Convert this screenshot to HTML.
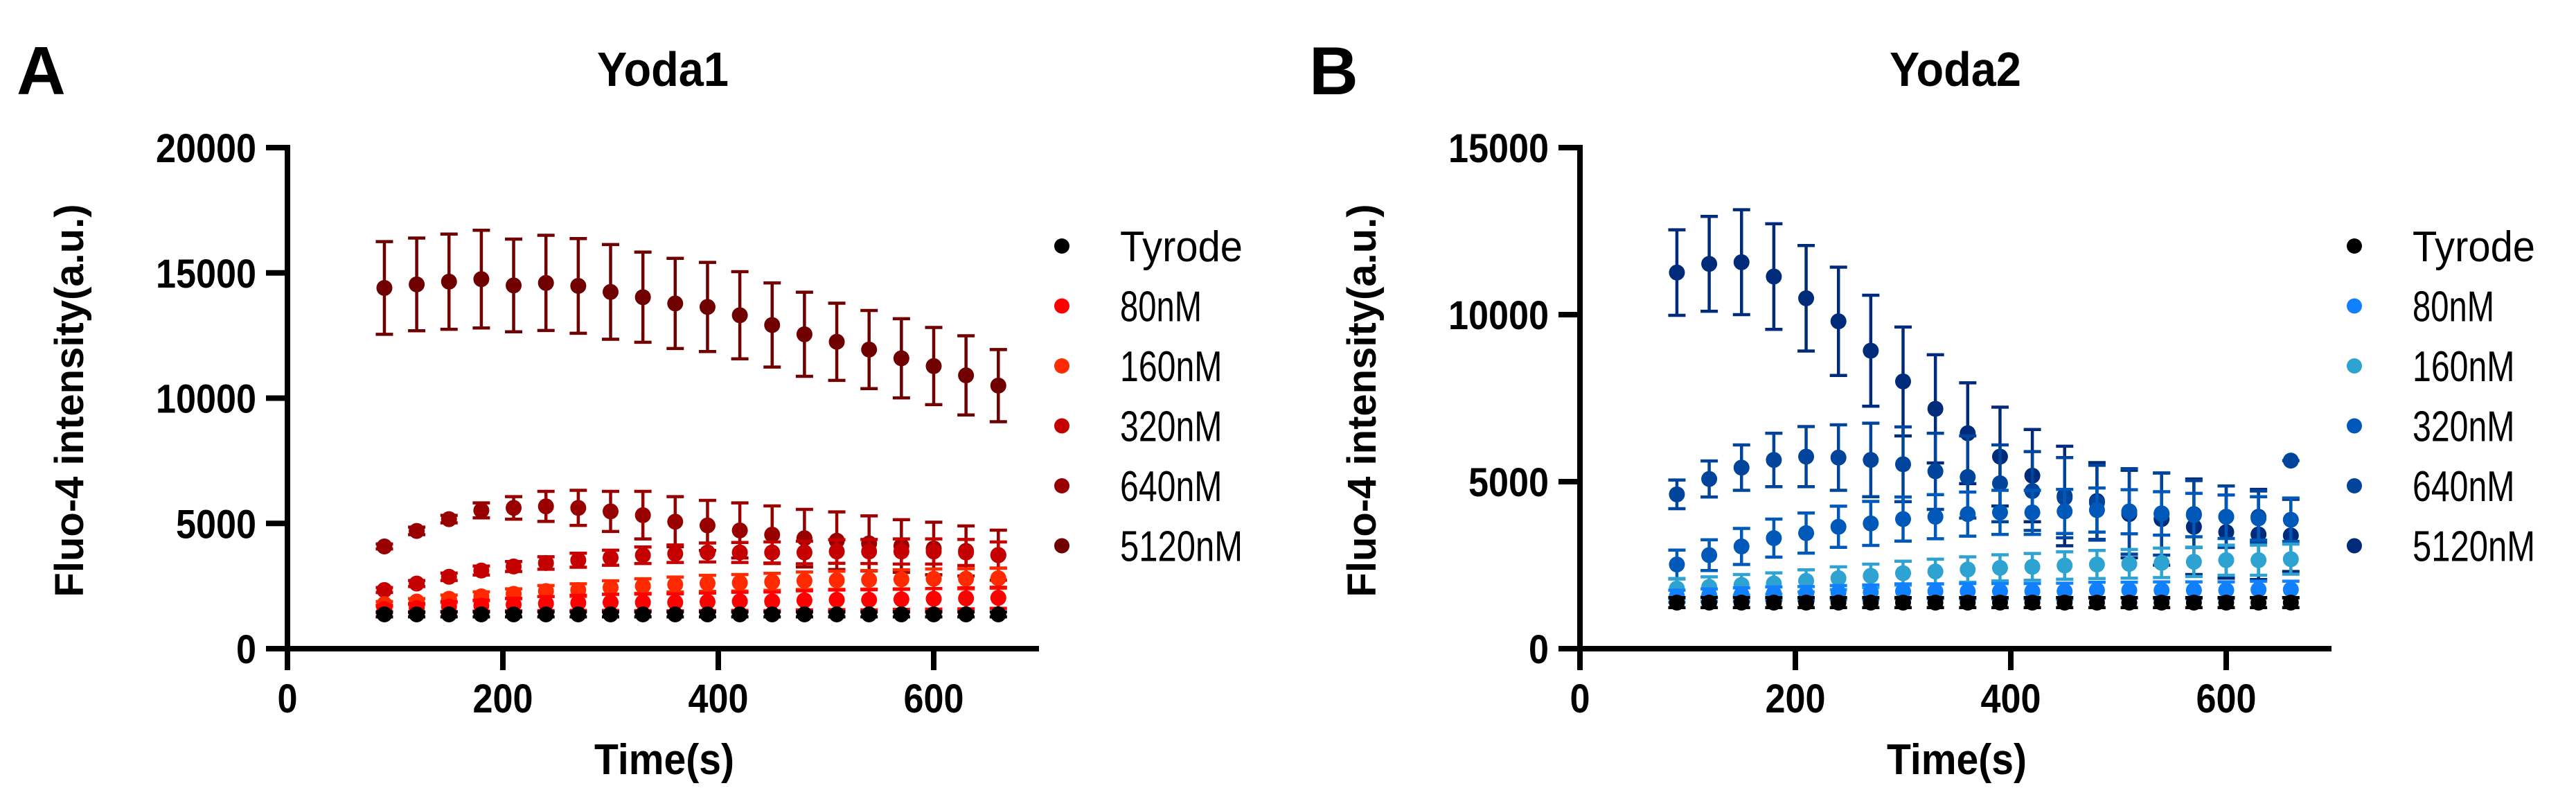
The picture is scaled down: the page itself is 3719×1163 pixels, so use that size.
<!DOCTYPE html>
<html><head><meta charset="utf-8">
<style>
html,body{margin:0;padding:0;background:#fff;}
svg{display:block;font-family:"Liberation Sans",Arial,sans-serif;}
</style></head>
<body>
<svg id="fig" width="3719" height="1163" viewBox="0 0 3719 1163" xmlns="http://www.w3.org/2000/svg"></svg>
<script>
// ---- shared data ----
const timePoints = [90,120,150,180,210,240,270,300,330,360,390,420,450,480,510,540,570,600,630,660];
const seriesNames = ["Tyrode","80nM","160nM","320nM","640nM","5120nM"];
const xTicks = [0,200,400,600];
const yTicksA = [0,5000,10000,15000,20000];
const yTicksB = [0,5000,10000,15000];

// ---- Panel A (Yoda1) ----
const a_tyrode = [1370,1370,1370,1370,1370,1370,1370,1370,1370,1370,1370,1370,1370,1370,1370,1370,1370,1370,1370,1370];
const a_tyrode_sd = [100,100,100,100,100,100,100,100,100,100,100,100,100,100,100,100,100,100,100,100];
const a_80 = [1580,1620,1680,1720,1760,1800,1830,1850,1850,1850,1870,1890,1890,1930,1950,1950,1970,1990,2010,2030];
const a_80_sd = [150,180,200,220,250,280,300,320,330,340,350,360,370,380,390,400,400,410,420,420];
const a_160 = [1780,1880,1990,2090,2190,2300,2340,2440,2500,2560,2610,2630,2670,2710,2730,2750,2770,2790,2790,2810];
const a_160_sd = [100,120,150,180,200,220,250,270,290,300,320,330,340,350,360,370,380,390,400,400];
const a_320 = [2340,2600,2870,3120,3280,3420,3530,3630,3730,3790,3840,3840,3840,3840,3880,3880,3880,3880,3840,3740];
const a_320_sd = [100,120,150,180,200,250,280,300,330,350,380,400,420,450,470,480,500,500,520,520];
const a_640 = [4080,4700,5170,5520,5620,5680,5620,5480,5330,5070,4920,4720,4550,4410,4310,4200,4100,4000,3900,3730];
const a_640_sd = [100,150,150,300,450,600,700,800,950,1000,1000,1100,1150,1150,1150,1100,1050,1050,1000,1000];
const a_5120 = [14400,14540,14650,14750,14500,14600,14480,14240,14030,13780,13640,13310,12920,12550,12250,11940,11590,11280,10910,10500];
const a_5120_sd = [1850,1850,1900,1950,1850,1900,1890,1890,1800,1800,1780,1740,1680,1680,1540,1560,1580,1540,1580,1440];

// ---- Panel B (Yoda2) ----
const b_tyrode = [1380,1380,1380,1380,1380,1380,1380,1380,1380,1380,1380,1380,1380,1380,1380,1380,1380,1380,1380,1380];
const b_tyrode_sd = [150,150,150,150,150,150,150,150,150,150,150,150,150,150,150,150,150,150,150,150];
const b_80 = [1570,1600,1620,1650,1650,1680,1690,1720,1720,1720,1720,1720,1720,1750,1750,1750,1750,1750,1770,1770];
const b_80_sd = [180,190,200,200,210,210,220,220,220,230,230,230,240,240,240,250,250,250,250,250];
const b_160 = [1800,1850,1910,1950,2030,2110,2180,2260,2310,2370,2420,2450,2490,2520,2540,2570,2600,2650,2650,2680];
const b_160_sd = [300,300,310,320,330,340,350,360,370,380,390,400,410,420,430,440,440,450,450,450];
const b_320 = [2520,2800,3060,3310,3460,3650,3750,3880,3950,4030,4080,4080,4110,4150,4100,4050,4000,3950,3900,3860];
const b_320_sd = [430,460,540,570,600,615,660,660,660,660,660,660,660,660,660,650,650,650,650,650];
const b_640 = [4620,5080,5420,5650,5750,5720,5650,5520,5310,5140,4950,4720,4520,4370,4110,4030,4030,3950,3950,5630];
const b_640_sd = [430,540,680,800,900,980,1100,1120,1140,1230,1150,1180,1200,1120,1280,1230,1000,920,770,0];
const b_5120 = [11260,11520,11570,11140,10490,9800,8920,8000,7180,6450,5750,5180,4570,4420,4030,3880,3650,3490,3420,3390];
const b_5120_sd = [1280,1420,1570,1580,1580,1620,1660,1630,1620,1510,1480,1380,1490,1150,1310,1380,1430,1380,1350,1080];

const colorsA = ["#000000","#ff0000","#ff2a00","#c40000","#980000","#700000"];
const colorsB = ["#000000","#1080ff","#2ea3d2","#0058b8","#00449c","#002a7a"];

const NS = "http://www.w3.org/2000/svg";
const svg = document.getElementById("fig");
function mk(tag, attrs, parent, text){
  const e = document.createElementNS(NS, tag);
  for (const k in attrs) e.setAttribute(k, attrs[k]);
  if (text !== undefined) e.textContent = text;
  (parent || svg).appendChild(e);
  return e;
}

function drawPanel(off, letter, title, yMax, yTicks, means, sds, colors, key){
  const X0 = 415 + off, XEND = 1500 + off, Y0 = 936, YTOP = 213;
  const xs = t => X0 + t * 1.555;
  const ys = v => Y0 - v * (Y0 - YTOP) / yMax;
  const g = mk("g", {});
  
  

  const lt = mk("text", {x: 24 + off, y: 136, "font-size": 98, "font-weight": "bold"}, g, letter);
  
  
  const tt = mk("text", {x: 957 + off, y: 124, "font-size": 70, "font-weight": "bold", "text-anchor": "middle", textLength: 190, lengthAdjust: "spacingAndGlyphs"}, g, title);
  
  

  // axes
  const ya = mk("line", {x1: X0, y1: YTOP - 4, x2: X0, y2: Y0 + 4, stroke: "#000", "stroke-width": 8}, g);
  
  
  const xa = mk("line", {x1: X0 - 31, y1: Y0, x2: XEND, y2: Y0, stroke: "#000", "stroke-width": 8}, g);
  
  

  yTicks.forEach(v => {
    const y = ys(v);
    const tk = mk("line", {x1: X0 - 31, y1: y, x2: X0, y2: y, stroke: "#000", "stroke-width": 8}, g);
    
    
    const tl = mk("text", {x: X0 - 45, y: y + 21, "font-size": 58, "font-weight": "bold", "text-anchor": "end", textLength: String(v).length * 29, lengthAdjust: "spacingAndGlyphs"}, g, String(v));
    
    
  });
  xTicks.forEach(v => {
    const x = xs(v);
    const tk = mk("line", {x1: x, y1: Y0, x2: x, y2: Y0 + 31, stroke: "#000", "stroke-width": 8}, g);
    
    
    const tl = mk("text", {x: x, y: 1028, "font-size": 58, "font-weight": "bold", "text-anchor": "middle", textLength: String(v).length * 29, lengthAdjust: "spacingAndGlyphs"}, g, String(v));
    
    
  });
  const xt = mk("text", {x: 959 + off, y: 1117, "font-size": 62, "font-weight": "bold", "text-anchor": "middle", textLength: 202, lengthAdjust: "spacingAndGlyphs"}, g, "Time(s)");
  
  
  const yt = mk("text", {x: 0, y: 0, "font-size": 58, "font-weight": "bold", "text-anchor": "middle", transform: `translate(${120 + off},578) rotate(-90)`}, g, "Fluo-4 intensity(a.u.)");
  
  

  // series: draw highest concentration first, Tyrode on top
  for (let s = means.length - 1; s >= 0; s--) {
    const sg = mk("g", {fill: colors[s], stroke: colors[s]}, g);
    
    
    timePoints.forEach((t, i) => {
      const x = xs(t), m = means[s][i], sd = sds[s][i];
      const yU = ys(m + sd), yL = ys(m - sd);
      const eb = mk("path", {d: `M${x},${yU}V${yL}M${x-12.5},${yU}H${x+12.5}M${x-12.5},${yL}H${x+12.5}`, "stroke-width": 4.5, fill: "none"}, sg);
      
      
      const pt = mk("circle", {cx: x, cy: ys(m), r: 11.5, stroke: "none"}, sg);
      
      
    });
  }

  // legend
  seriesNames.forEach((n, i) => {
    const y = 355 + i * 86.5;
    const lg = mk("g", {}, g);
    
    
    mk("circle", {cx: 1533 + off, cy: y, r: 11, fill: colors[i]}, lg);
    mk("text", {x: 1617 + off, y: y + 22, "font-size": 62, textLength: n.length * 29.5, lengthAdjust: "spacingAndGlyphs"}, lg, n);
  });
}

drawPanel(0, "A", "Yoda1", 20000, yTicksA,
  [a_tyrode, a_80, a_160, a_320, a_640, a_5120],
  [a_tyrode_sd, a_80_sd, a_160_sd, a_320_sd, a_640_sd, a_5120_sd], colorsA, "a");
drawPanel(1866, "B", "Yoda2", 15000, yTicksB,
  [b_tyrode, b_80, b_160, b_320, b_640, b_5120],
  [b_tyrode_sd, b_80_sd, b_160_sd, b_320_sd, b_640_sd, b_5120_sd], colorsB, "b");
</script>
</body></html>
